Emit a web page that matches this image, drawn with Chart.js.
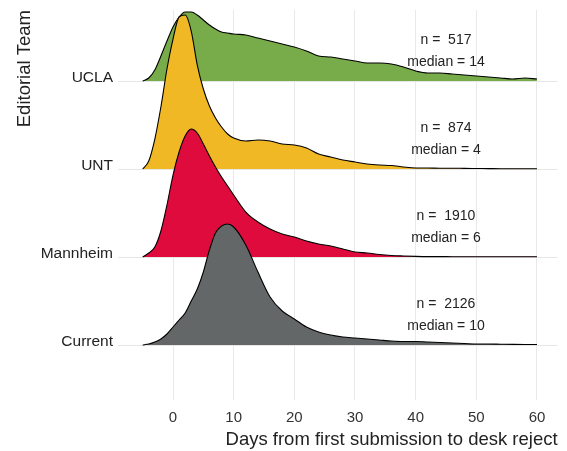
<!DOCTYPE html>
<html>
<head>
<meta charset="utf-8">
<script src="https://cdn.jsdelivr.net/npm/chart.js@4.4.1/dist/chart.umd.min.js"></script>
<style>
    html, body { margin: 0; padding: 0; background: #ffffff; }
    #wrap { width: 567px; height: 451px; }
</style>
</head>
<body>
<div id="wrap"><canvas id="ridges" width="567" height="451"></canvas></div>
<script>
    "use strict";

    // Editorial teams, bottom row first
    var teams = ['Current', 'Mannheim', 'UNT', 'UCLA'];
    var teamColors = ['#646767', '#DF0B3D', '#F1B825', '#78AC4A'];
    var submissions = [2126, 1910, 874, 517];
    var medians = [10, 6, 4, 14];

    // Days from first submission to desk reject (density grid)
    var days = [-5, -4, -3, -2, -1, 0, 1, 2, 3, 4, 5, 6, 7, 8, 9, 10, 12, 14, 16, 18, 20,
        22, 24, 26, 28, 30, 32, 34, 36, 38, 40, 42, 44, 46, 48, 50, 52, 54, 56, 58, 60];

    // Ridge heights, one value per entry of "days"
    var densityCurrent = [0, 1, 3, 6, 11, 18, 25, 32, 44, 56, 73, 95, 112, 119, 121, 118, 100, 73, 48, 34, 26,
        18, 13, 10, 8, 7, 6, 5, 4, 3.5, 3.5, 3, 2.5, 2, 1.5, 1, 1, 0.8, 0.6, 0.5, 0.5];
    var densityMannheim = [0, 4, 10, 26, 52, 82, 105, 121, 128, 124, 113, 101, 90, 80, 71, 62, 45, 35, 28, 23, 20,
        16, 13, 11, 8, 5, 4, 2.5, 1.5, 1, 0.6, 0.4, 0.4, 0.3, 0.3, 0.3, 0.3, 0.2, 0.2, 0.2, 0.2];
    var densityUNT = [0, 8, 30, 62, 100, 130, 152, 154, 138, 104, 80, 63, 51, 42, 35, 31, 28, 29, 28, 25, 24,
        21, 15, 12, 9, 7, 5, 4, 3.5, 2, 1, 1, 0.8, 0.8, 0.6, 0.5, 0.4, 0.3, 0.3, 0.2, 0.2];
    var densityUCLA = [0, 3, 11, 25, 40, 54, 64, 69, 69, 66, 61, 56, 52, 49, 48, 47, 46, 43, 40, 37, 34,
        30, 25, 24, 22, 20, 18, 18, 17, 14, 10, 8, 8, 7, 6, 5, 4, 3, 2, 3, 2];

    var densities = [densityCurrent, densityMannheim, densityUNT, densityUCLA];

    var xTicks = [0, 10, 20, 30, 40, 50, 60];
    var xTitle = 'Days from first submission to desk reject';
    var yTitle = 'Editorial Team';

    // ridge "scale": how many rows one unit of density spans
    var densityPerRow = 88;
    var labelX = 45;
    var fontFamily = '"Liberation Sans", Arial, Helvetica, sans-serif';

    function buildDatasets() {
        return teams.map(function (team, row) {
            return {
                label: team,
                data: days.map(function (d, i) {
                    return {x: d, y: row + densities[row][i] / densityPerRow};
                }),
                backgroundColor: teamColors[row],
                borderColor: '#000000',
                borderWidth: 1.1,
                pointRadius: 0,
                cubicInterpolationMode: 'monotone',
                fill: {value: row},
            };
        });
    }

    // Row labels sit on the baseline, annotations float to the right
    var ridgeText = {
        id: 'ridgeText',
        afterDatasetsDraw: function (chart) {
            var ctx = chart.ctx;
            var xs = chart.scales.x;
            var ys = chart.scales.y;
            ctx.save();
            ctx.fillStyle = '#222222';
            ctx.textBaseline = 'alphabetic';

            ctx.font = '15.5px ' + fontFamily;
            ctx.textAlign = 'right';
            teams.forEach(function (team, row) {
                ctx.fillText(team, chart.chartArea.left - 5, ys.getPixelForValue(row) + 1);
            });

            ctx.font = '14px ' + fontFamily;
            ctx.textAlign = 'center';
            teams.forEach(function (team, row) {
                var cx = xs.getPixelForValue(labelX);
                ctx.fillText('n =  ' + submissions[row], cx, ys.getPixelForValue(row + 0.42));
                ctx.fillText('median = ' + medians[row], cx, ys.getPixelForValue(row + 0.17));
            });
            ctx.restore();
        },
    };

    new Chart(document.getElementById('ridges'), {
        type: 'line',
        data: {datasets: buildDatasets()},
        plugins: [ridgeText],
        options: {
            responsive: false,
            animation: false,
            layout: {padding: {top: 10, right: 9.4, left: 0, bottom: 0}},
            plugins: {
                legend: {display: false},
                tooltip: {enabled: false},
            },
            scales: {
                x: {
                    type: 'linear',
                    min: -9.07,
                    max: 63.4,
                    afterBuildTicks: function (scale) {
                        scale.ticks = xTicks.map(function (v) { return {value: v}; });
                    },
                    afterFit: function (scale) { scale.height = 51; },
                    grid: {color: '#e9e9e9', lineWidth: 1, drawTicks: false},
                    border: {display: false},
                    ticks: {
                        padding: 9,
                        color: '#333333',
                        font: {family: fontFamily, size: 15},
                    },
                    title: {
                        display: true,
                        text: xTitle,
                        align: 'end',
                        color: '#222222',
                        padding: {top: 0, bottom: 0},
                        font: {family: fontFamily, size: 18.5},
                    },
                },
                y: {
                    type: 'linear',
                    min: -0.625,
                    max: 3.807,
                    afterBuildTicks: function (scale) {
                        scale.ticks = teams.map(function (t, i) { return {value: i}; });
                    },
                    afterFit: function (scale) { scale.width = 118; },
                    grid: {color: '#e6e6e6', lineWidth: 1, drawTicks: false},
                    border: {display: false},
                    ticks: {display: false},
                    title: {
                        display: true,
                        text: yTitle,
                        align: 'end',
                        color: '#222222',
                        padding: {top: 14, bottom: 0},
                        font: {family: fontFamily, size: 18.5},
                    },
                },
            },
        },
    });
</script>
</body>
</html>
